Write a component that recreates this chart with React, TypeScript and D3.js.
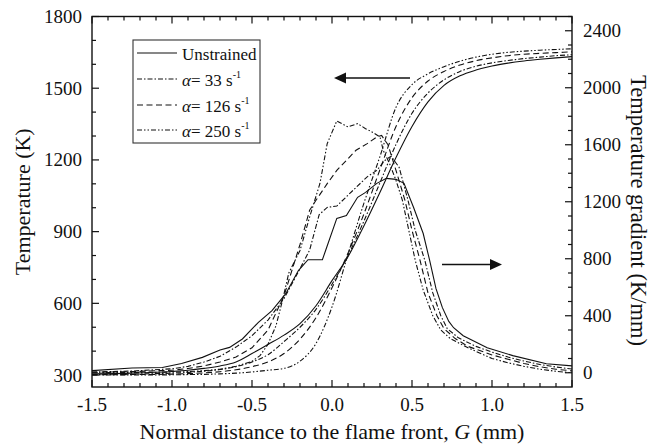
import React from 'react';
import * as d3 from 'd3';

const W = 652;
const H = 447;

// ---------- data ----------
const xMajor = [-1.5, -1.0, -0.5, 0, 0.5, 1.0, 1.5];
const xLabels = ['-1.5', '-1.0', '-0.5', '0.0', '0.5', '1.0', '1.5'];
const tMajor = [300, 600, 900, 1200, 1500, 1800];
const gMajor = [0, 400, 800, 1200, 1600, 2000, 2400];

const tempGrid = [-1.5, -1.25, -1.0, -0.9, -0.8, -0.7, -0.6, -0.5, -0.4, -0.3, -0.2, -0.1, 0, 0.1, 0.2, 0.3, 0.4, 0.5, 0.6, 0.7, 0.8, 0.9, 1.0, 1.1, 1.2, 1.3, 1.4, 1.5];
const tempUnstrained = [305, 308, 315, 320, 328, 338, 355, 390, 428, 467, 515, 590, 695, 795, 925, 1065, 1210, 1340, 1443, 1512, 1552, 1576, 1593, 1605, 1614, 1621, 1627, 1632];
const tempA33 = [302, 304, 308, 311, 316, 323, 335, 355, 385, 440, 500, 575, 680, 800, 945, 1105, 1265, 1395, 1480, 1535, 1570, 1592, 1606, 1616, 1624, 1630, 1636, 1640];
const tempA126 = [301, 302, 304, 306, 309, 314, 322, 335, 355, 390, 450, 540, 665, 810, 975, 1160, 1340, 1460, 1530, 1570, 1597, 1615, 1627, 1636, 1642, 1646, 1649, 1652];
const tempA250 = [300, 300, 301, 302, 303, 305, 308, 313, 320, 328, 358, 432, 585, 805, 1020, 1215, 1420, 1515, 1560, 1590, 1613, 1630, 1642, 1650, 1655, 1659, 1662, 1665];

const gradUnstrained: [number, number][] = [
  [-1.5, 15], [-1.25, 33], [-1.06, 37], [-0.94, 65], [-0.81, 108], [-0.7, 160], [-0.64, 178], [-0.56, 237],
  [-0.46, 354], [-0.375, 436], [-0.29, 553], [-0.21, 717], [-0.15, 793], [-0.06, 793], [-0.04, 858], [0.03, 1083],
  [0.09, 1104], [0.16, 1231], [0.21, 1266], [0.28, 1329], [0.34, 1364], [0.40, 1357], [0.45, 1329], [0.51, 1160],
  [0.57, 977], [0.61, 790], [0.65, 590], [0.69, 457], [0.73, 360], [0.76, 316], [0.82, 260], [0.97, 176],
  [1.13, 120], [1.34, 63], [1.5, 48],
];
const gradA33: [number, number][] = [
  [-1.5, 5], [-1.25, 12], [-1.0, 28], [-0.9, 45], [-0.8, 75], [-0.7, 115], [-0.6, 180], [-0.5, 260], [-0.4, 370],
  [-0.3, 520], [-0.2, 730], [-0.14, 860], [-0.08, 1110], [-0.03, 1160], [0.03, 1170], [0.09, 1235], [0.15, 1300],
  [0.22, 1375], [0.28, 1420], [0.33, 1490], [0.37, 1520], [0.42, 1440], [0.475, 1210], [0.52, 1000], [0.58, 790],
  [0.63, 560], [0.68, 400], [0.72, 310], [0.79, 245], [0.9, 185], [1.0, 145], [1.1, 110], [1.2, 82], [1.3, 58],
  [1.4, 40], [1.5, 26],
];
const gradA126: [number, number][] = [
  [-1.5, 3], [-1.25, 8], [-1.0, 18], [-0.9, 30], [-0.8, 48], [-0.7, 75], [-0.6, 110], [-0.5, 175], [-0.4, 300],
  [-0.3, 540], [-0.25, 720], [-0.2, 900], [-0.14, 1140], [-0.1, 1210], [-0.03, 1327], [0.03, 1420], [0.09, 1490],
  [0.15, 1561], [0.22, 1608], [0.28, 1655], [0.31, 1665], [0.35, 1600], [0.40, 1420], [0.456, 1210], [0.5, 1000],
  [0.55, 790], [0.6, 560], [0.656, 400], [0.7, 310], [0.77, 240], [0.85, 185], [1.0, 125], [1.1, 95], [1.2, 65],
  [1.3, 42], [1.4, 25], [1.5, 13],
];
const gradA250: [number, number][] = [
  [-1.5, 0], [-1.25, 2], [-1.0, 5], [-0.9, 8], [-0.8, 15], [-0.7, 25], [-0.6, 45], [-0.5, 80], [-0.45, 120],
  [-0.4, 200], [-0.35, 330], [-0.31, 506], [-0.27, 700], [-0.2, 858], [-0.14, 1092], [-0.075, 1330], [-0.03, 1608],
  [0.03, 1767], [0.1, 1725], [0.16, 1748], [0.21, 1713], [0.25, 1690], [0.3, 1655], [0.32, 1561], [0.36, 1467],
  [0.40, 1350], [0.44, 1210], [0.48, 1000], [0.52, 790], [0.57, 580], [0.63, 400], [0.68, 300], [0.74, 239],
  [0.85, 175], [1.0, 100], [1.1, 70], [1.2, 45], [1.3, 25], [1.4, 10], [1.5, 0],
];

const seriesNames = ['Unstrained', '33', '126', '250'];
const dashes = ['none', '5,2,1.5,2', '6,3.5', '5,2,1.5,2,1.5,2'];

// ---------- layout ----------
const L = 92, R = 572, T = 16.5, B = 387;
const FONT = '"Liberation Serif", "Times New Roman", serif';

export default function App() {
  const x = d3.scaleLinear().domain([-1.5, 1.5]).range([L, R]);
  const yT = d3.scaleLinear().domain([250, 1800]).range([B, T]);
  const yG = d3.scaleLinear().domain([-100, 2500]).range([B, T]);

  const temps = [tempUnstrained, tempA33, tempA126, tempA250];
  const grads = [gradUnstrained, gradA33, gradA126, gradA250];

  const tLine = d3.line<number>()
    .x((_, i) => x(tempGrid[i]))
    .y((d) => yT(d))
    .curve(d3.curveMonotoneX);
  const gLine = d3.line<[number, number]>()
    .x((d) => x(d[0]))
    .y((d) => yG(d[1]));

  const xMinor = d3.range(-15, 16).map((v) => v / 10);
  const tMinor = d3.range(300, 1801, 100);
  const gMinor = d3.range(0, 2501, 100);

  const ticks: JSX.Element[] = [];
  xMinor.forEach((v, i) => {
    const major = xMajor.some((m) => Math.abs(m - v) < 1e-9);
    const len = major ? 7 : 4;
    ticks.push(<line key={'xb' + i} x1={x(v)} x2={x(v)} y1={B} y2={B - len} />);
    ticks.push(<line key={'xt' + i} x1={x(v)} x2={x(v)} y1={T} y2={T + len} />);
  });
  tMinor.forEach((v, i) => {
    const major = v % 300 === 0;
    const len = major ? 7 : 4;
    ticks.push(<line key={'tl' + i} x1={L} x2={L + len} y1={yT(v)} y2={yT(v)} />);
  });
  gMinor.forEach((v, i) => {
    const major = v % 400 === 0;
    const len = major ? 7 : 4;
    ticks.push(<line key={'gr' + i} x1={R} x2={R - len} y1={yG(v)} y2={yG(v)} />);
  });

  const legX = 133, legY = 40, legW = 127, legH = 103;
  const rowY = [54, 80, 106, 131];

  return (
    <svg width={W} height={H} style={{ position: 'absolute', left: 0, top: 0, background: '#fff' }}
      fontFamily={FONT}>
      <rect x={0} y={0} width={W} height={H} fill="#fff" />
      <defs>
        <clipPath id="plot">
          <rect x={L} y={T} width={R - L} height={B - T} />
        </clipPath>
      </defs>

      <g clipPath="url(#plot)" fill="none" stroke="#111" strokeWidth={1.1}>
        {temps.map((s, i) => (
          <path key={'t' + i} d={tLine(s) || ''} strokeDasharray={dashes[i]} />
        ))}
        {grads.map((s, i) => (
          <path key={'g' + i} d={gLine(s) || ''} strokeDasharray={dashes[i]} />
        ))}
      </g>

      {/* frame */}
      <rect x={L} y={T} width={R - L} height={B - T} fill="none" stroke="#111" strokeWidth={1.4} />
      <g stroke="#111" strokeWidth={1.2}>{ticks}</g>

      {/* tick labels */}
      <g fontSize={19} fill="#111">
        {xMajor.map((v, i) => (
          <text key={'xl' + i} x={x(v)} y={411} textAnchor="middle">{xLabels[i]}</text>
        ))}
        {tMajor.map((v, i) => (
          <text key={'tl' + i} x={82} y={yT(v) + 6.5} textAnchor="end">{v}</text>
        ))}
        {gMajor.map((v, i) => (
          <text key={'gl' + i} x={583} y={yG(v) + 6.5} textAnchor="start">{v}</text>
        ))}
      </g>

      {/* axis titles */}
      <text x={(L + R) / 2} y={439} textAnchor="middle" fontSize={22} fill="#111">
        Normal distance to the flame front, <tspan fontStyle="italic">G</tspan> (mm)
      </text>
      <text transform={`translate(30, ${(T + B) / 2}) rotate(-90)`} textAnchor="middle" fontSize={22} fill="#111">
        Temperature (K)
      </text>
      <text transform={`translate(631, 210.5) rotate(90)`} textAnchor="middle" fontSize={22.5} fill="#111">
        Temperature gradient (K/mm)
      </text>

      {/* arrows */}
      <g stroke="#111" strokeWidth={1.3} fill="#111">
        <line x1={410} y1={78} x2={343} y2={78} />
        <path d="M334,78 L346,72.5 L346,83.5 Z" stroke="none" />
        <line x1={442} y1={264.5} x2={493} y2={264.5} />
        <path d="M502,264.5 L490,259 L490,270 Z" stroke="none" />
      </g>

      {/* legend */}
      <rect x={legX} y={legY} width={legW} height={legH} fill="#fff" stroke="#333" strokeWidth={1.1} />
      {seriesNames.map((n, i) => (
        <g key={'lg' + i}>
          <line x1={137} x2={177} y1={rowY[i] - 1} y2={rowY[i] - 1} stroke="#111" strokeWidth={1.1}
            strokeDasharray={dashes[i]} />
          {i === 0 ? (
            <text x={182} y={rowY[i] + 6} fontSize={17} fill="#111">{n}</text>
          ) : (
            <text x={182} y={rowY[i] + 6} fontSize={17} fill="#111">
              <tspan fontStyle="italic">α</tspan>= {n} s<tspan fontSize={10} dy={-8}>-1</tspan>
            </text>
          )}
        </g>
      ))}
    </svg>
  );
}
